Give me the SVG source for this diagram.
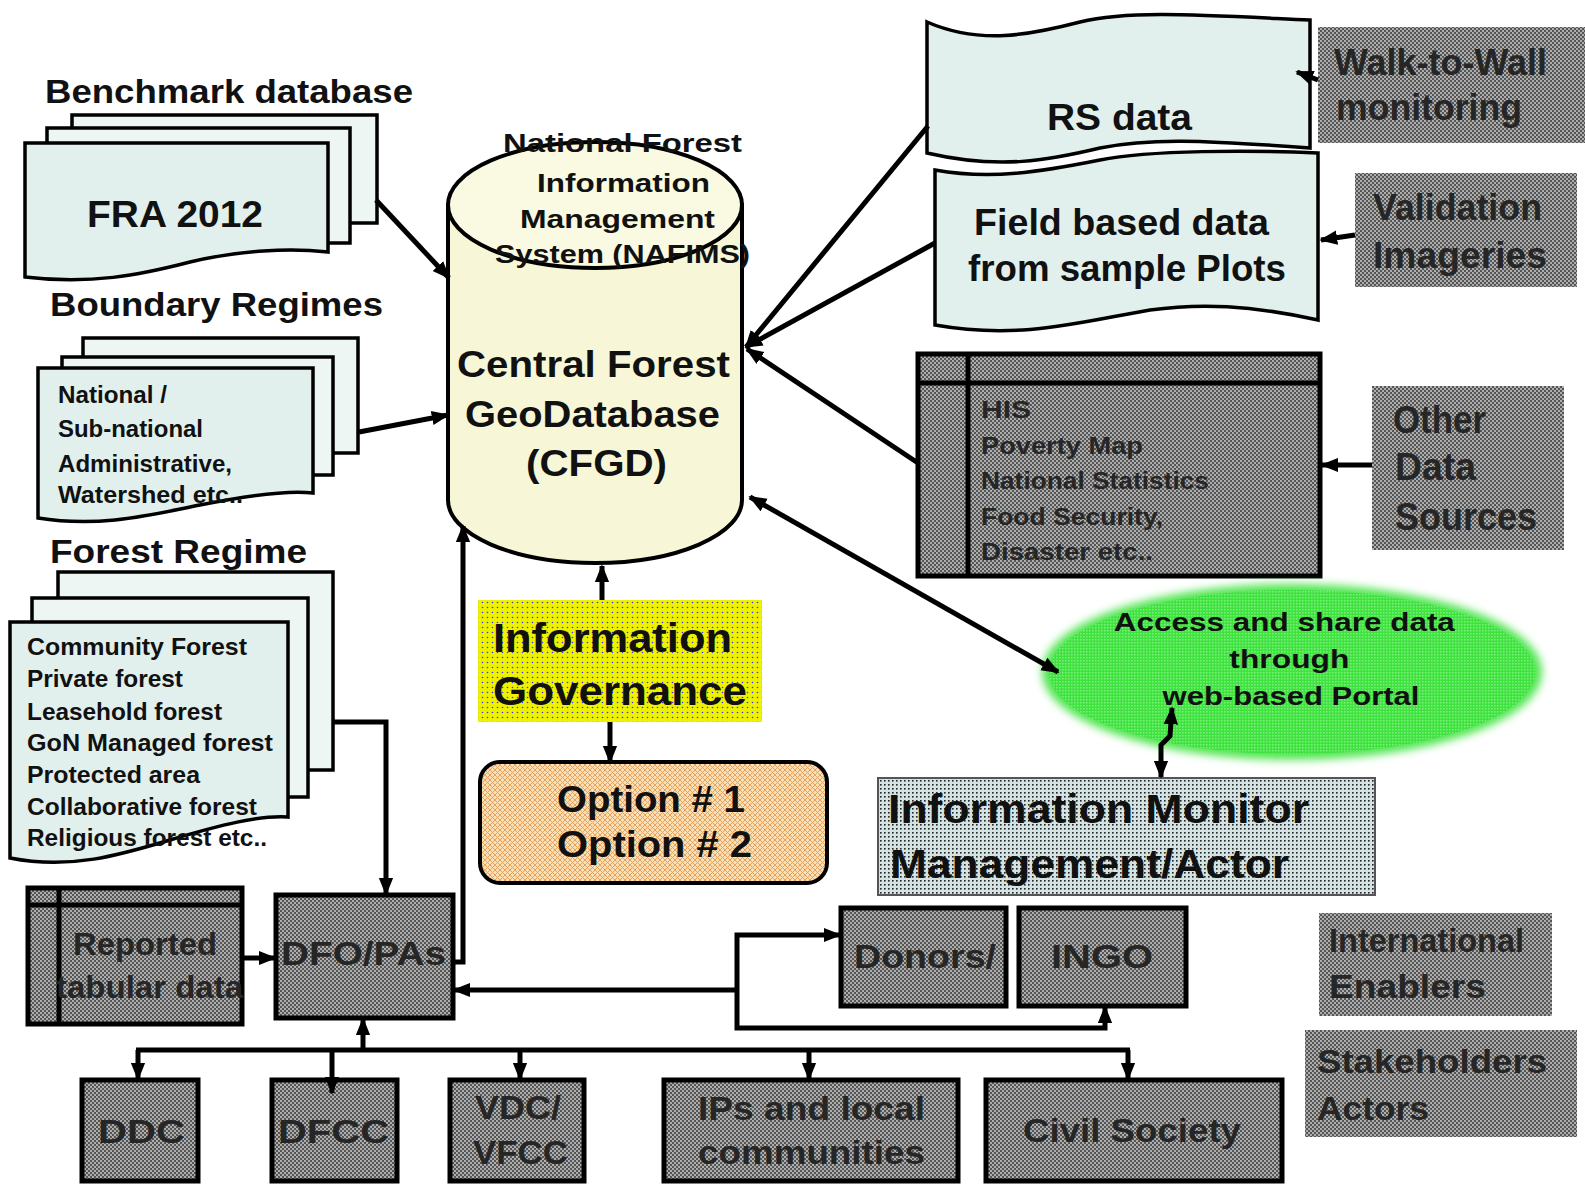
<svg xmlns="http://www.w3.org/2000/svg" width="1585" height="1192" viewBox="0 0 1585 1192">
<style>
.t{font-family:"Liberation Sans",Arial,sans-serif;font-weight:bold;fill:#111}
.g{fill:#262626}
.doc{fill:#e1f0ed;stroke:#000;stroke-width:3.5}
.docb{fill:#eef6f4;stroke:#000;stroke-width:3.5}
.box{fill:url(#chk);stroke:#000;stroke-width:5}
.nb{fill:url(#chk)}
.ln{fill:none;stroke:#000;stroke-width:5}
</style>
<defs>
<pattern id="chk" width="4" height="4" patternUnits="userSpaceOnUse">
<rect width="4" height="4" fill="#555"/>
<rect width="2" height="2" fill="#adadad"/>
<rect x="2" y="2" width="2" height="2" fill="#adadad"/>
</pattern>
<pattern id="dots" width="4" height="4" patternUnits="userSpaceOnUse">
<rect width="4" height="4" fill="#d3e3e3"/>
<rect width="1.6" height="1.6" fill="#222"/>
</pattern>
<pattern id="ydot" width="5" height="5" patternUnits="userSpaceOnUse">
<rect width="5" height="5" fill="#eef200"/>
<circle cx="2.5" cy="2.5" r="0.8" fill="#3a3ae0"/>
</pattern>
<pattern id="hatch" width="5" height="5" patternUnits="userSpaceOnUse">
<rect width="5" height="5" fill="#f9e0b6"/>
<path d="M0,0 L5,5 M5,0 L0,5" stroke="#e9a25e" stroke-width="1"/>
</pattern>
<pattern id="grn" width="3" height="3" patternUnits="userSpaceOnUse">
<rect width="3" height="3" fill="#3fe23f"/>
<rect width="1.5" height="1.5" fill="#7cf07c"/>
</pattern>
<filter id="soft" x="-10%" y="-20%" width="120%" height="140%"><feGaussianBlur stdDeviation="4"/></filter>
<marker id="ah" viewBox="0 0 10 10" refX="9" refY="5" markerWidth="18" markerHeight="18" markerUnits="userSpaceOnUse" orient="auto-start-reverse">
<path d="M0,1 L10,5 L0,9 Z" fill="#000"/>
</marker>
</defs>
<rect width="1585" height="1192" fill="#fff"/>

<g id="benchmark">
<text class="t" x="45" y="103" font-size="33" textLength="368" lengthAdjust="spacingAndGlyphs">Benchmark database</text>
<rect class="docb" x="72" y="115" width="305" height="108"/>
<rect class="docb" x="47" y="128" width="303" height="115"/>
<path class="doc" d="M25,143 H328 V252 C290,248 240,250 190,262 C140,275 90,285 25,277 Z"/>
<text class="t" x="87" y="227" font-size="36" textLength="176" lengthAdjust="spacingAndGlyphs">FRA 2012</text>
</g>

<g id="boundary">
<text class="t" x="50" y="316" font-size="34" textLength="333" lengthAdjust="spacingAndGlyphs">Boundary Regimes</text>
<rect class="docb" x="83" y="338" width="275" height="115"/>
<rect class="docb" x="62" y="357" width="271" height="118"/>
<path class="doc" d="M38,368 H313 V493 C290,490 250,495 200,505 C150,515 100,528 38,518 Z"/>
<text class="t" font-size="23"><tspan x="58" y="403" textLength="109" lengthAdjust="spacingAndGlyphs">National /</tspan><tspan x="58" y="437" textLength="145" lengthAdjust="spacingAndGlyphs">Sub-national</tspan><tspan x="58" y="472" textLength="174" lengthAdjust="spacingAndGlyphs">Administrative,</tspan><tspan x="58" y="503" textLength="185" lengthAdjust="spacingAndGlyphs">Watershed etc..</tspan></text>
</g>

<g id="forest">
<text class="t" x="50" y="563" font-size="34" textLength="257" lengthAdjust="spacingAndGlyphs">Forest Regime</text>
<rect class="docb" x="58" y="572" width="275" height="198"/>
<rect class="docb" x="32" y="598" width="276" height="199"/>
<path class="doc" d="M10,622 H288 V817 C260,815 220,825 170,840 C120,855 70,870 10,858 Z"/>
<text class="t" font-size="24">
<tspan x="27" y="655" textLength="220" lengthAdjust="spacingAndGlyphs">Community Forest</tspan>
<tspan x="27" y="687" textLength="156" lengthAdjust="spacingAndGlyphs">Private forest</tspan>
<tspan x="27" y="720" textLength="195" lengthAdjust="spacingAndGlyphs">Leasehold forest</tspan>
<tspan x="27" y="751" textLength="246" lengthAdjust="spacingAndGlyphs">GoN Managed forest</tspan>
<tspan x="27" y="783" textLength="173" lengthAdjust="spacingAndGlyphs">Protected area</tspan>
<tspan x="27" y="815" textLength="230" lengthAdjust="spacingAndGlyphs">Collaborative forest</tspan>
<tspan x="27" y="846" textLength="240" lengthAdjust="spacingAndGlyphs">Religious forest etc..</tspan>
</text>
</g>

<g id="cfgd">
<path d="M448,205 V500 A147,63 0 0 0 742,500 V205 Z" fill="#f7f7d8" stroke="#000" stroke-width="4"/>
<ellipse cx="595" cy="205" rx="147" ry="63" fill="#fafae2" stroke="#000" stroke-width="4"/>
<text class="t" font-size="26">
<tspan x="503" y="152" textLength="239" lengthAdjust="spacingAndGlyphs">National Forest</tspan>
<tspan x="537" y="192" textLength="173" lengthAdjust="spacingAndGlyphs">Information</tspan>
<tspan x="520" y="228" textLength="195" lengthAdjust="spacingAndGlyphs">Management</tspan>
<tspan x="495" y="263" textLength="255" lengthAdjust="spacingAndGlyphs">System (NAFIMS)</tspan>
</text>
<text class="t" font-size="36">
<tspan x="457" y="377" textLength="273" lengthAdjust="spacingAndGlyphs">Central Forest</tspan>
<tspan x="465" y="427" textLength="255" lengthAdjust="spacingAndGlyphs">GeoDatabase</tspan>
<tspan x="526" y="476" textLength="141" lengthAdjust="spacingAndGlyphs">(CFGD)</tspan>
</text>
</g>

<g id="governance">
<rect x="478" y="600" width="284" height="122" fill="url(#ydot)"/>
<text class="t" font-size="40"><tspan x="493" y="652" textLength="239" lengthAdjust="spacingAndGlyphs">Information</tspan><tspan x="493" y="705" textLength="254" lengthAdjust="spacingAndGlyphs">Governance</tspan></text>
</g>

<g id="options">
<rect x="480" y="762" width="347" height="121" rx="20" fill="url(#hatch)" stroke="#000" stroke-width="4"/>
<text class="t" font-size="36"><tspan x="557" y="812" textLength="188" lengthAdjust="spacingAndGlyphs">Option # 1</tspan><tspan x="557" y="857" textLength="195" lengthAdjust="spacingAndGlyphs">Option # 2</tspan></text>
</g>

<g id="rsdata">
<path class="doc" d="M927,22 C980,45 1030,35 1080,22 C1130,10 1200,15 1310,20 V148 C1200,140 1150,138 1100,148 C1050,160 1000,170 927,153 Z"/>
<text class="t" x="1047" y="130" font-size="36" textLength="145" lengthAdjust="spacingAndGlyphs">RS data</text>
</g>

<g id="fielddata">
<path class="doc" d="M935,170 C990,180 1040,172 1100,160 C1150,150 1250,150 1318,153 V320 C1250,305 1200,303 1150,310 C1080,322 1020,340 935,325 Z"/>
<text class="t" font-size="36"><tspan x="974" y="235" textLength="295" lengthAdjust="spacingAndGlyphs">Field based data</tspan><tspan x="968" y="281" textLength="318" lengthAdjust="spacingAndGlyphs">from sample Plots</tspan></text>
</g>

<g id="walltowall">
<rect class="nb" x="1318" y="27" width="267" height="116"/>
<text class="t g" font-size="36"><tspan x="1334" y="75" textLength="213" lengthAdjust="spacingAndGlyphs">Walk-to-Wall</tspan><tspan x="1336" y="120" textLength="186" lengthAdjust="spacingAndGlyphs">monitoring</tspan></text>
</g>

<g id="validation">
<rect class="nb" x="1355" y="173" width="222" height="114"/>
<text class="t g" font-size="36"><tspan x="1373" y="220" textLength="169" lengthAdjust="spacingAndGlyphs">Validation</tspan><tspan x="1373" y="268" textLength="174" lengthAdjust="spacingAndGlyphs">Imageries</tspan></text>
</g>

<g id="his">
<rect class="box" x="918" y="354" width="402" height="222"/>
<path class="ln" d="M968,354 V576 M918,383 H1320"/>
<text class="t g" font-size="24">
<tspan x="981" y="418" textLength="50" lengthAdjust="spacingAndGlyphs">HIS</tspan>
<tspan x="981" y="454" textLength="162" lengthAdjust="spacingAndGlyphs">Poverty Map</tspan>
<tspan x="981" y="489" textLength="228" lengthAdjust="spacingAndGlyphs">National Statistics</tspan>
<tspan x="981" y="525" textLength="182" lengthAdjust="spacingAndGlyphs">Food Security,</tspan>
<tspan x="981" y="560" textLength="172" lengthAdjust="spacingAndGlyphs">Disaster etc..</tspan>
</text>
</g>

<g id="otherdata">
<rect class="nb" x="1372" y="386" width="192" height="164"/>
<text class="t g" font-size="38"><tspan x="1393" y="433" textLength="93" lengthAdjust="spacingAndGlyphs">Other</tspan><tspan x="1395" y="480" textLength="81" lengthAdjust="spacingAndGlyphs">Data</tspan><tspan x="1395" y="530" textLength="142" lengthAdjust="spacingAndGlyphs">Sources</tspan></text>
</g>

<g id="portal">
<ellipse cx="1292" cy="672" rx="250" ry="88" fill="url(#grn)" filter="url(#soft)"/>
<ellipse cx="1292" cy="672" rx="243" ry="82" fill="url(#grn)"/>
<text class="t" font-size="26" text-anchor="middle">
<tspan x="1288" y="631" textLength="341" lengthAdjust="spacingAndGlyphs">Access and share data</tspan>
<tspan x="1293" y="668" textLength="120" lengthAdjust="spacingAndGlyphs">through</tspan>
<tspan x="1291" y="705" textLength="257" lengthAdjust="spacingAndGlyphs">web-based Portal</tspan>
</text>
</g>

<g id="infomonitor">
<rect x="878" y="778" width="497" height="117" fill="url(#dots)" stroke="#555" stroke-width="2"/>
<text class="t" font-size="40"><tspan x="888" y="823" textLength="421" lengthAdjust="spacingAndGlyphs">Information Monitor</tspan><tspan x="890" y="878" textLength="399" lengthAdjust="spacingAndGlyphs">Management/Actor</tspan></text>
</g>

<g id="donors">
<rect class="box" x="841" y="908" width="165" height="98"/>
<text class="t g" x="854" y="968" font-size="34" textLength="142" lengthAdjust="spacingAndGlyphs">Donors/</text>
</g>

<g id="ingo">
<rect class="box" x="1019" y="908" width="167" height="98"/>
<text class="t g" x="1051" y="968" font-size="34" textLength="102" lengthAdjust="spacingAndGlyphs">INGO</text>
</g>

<g id="enablers">
<rect class="nb" x="1319" y="913" width="233" height="103"/>
<text class="t g" font-size="34"><tspan x="1329" y="952" textLength="195" lengthAdjust="spacingAndGlyphs">International</tspan><tspan x="1329" y="998" textLength="157" lengthAdjust="spacingAndGlyphs">Enablers</tspan></text>
</g>

<g id="stakeholders">
<rect class="nb" x="1305" y="1030" width="272" height="107"/>
<text class="t g" font-size="34"><tspan x="1317" y="1073" textLength="230" lengthAdjust="spacingAndGlyphs">Stakeholders</tspan><tspan x="1317" y="1120" textLength="112" lengthAdjust="spacingAndGlyphs">Actors</tspan></text>
</g>

<g id="reported">
<rect class="box" x="28" y="888" width="214" height="136"/>
<path class="ln" d="M59,888 V1024 M28,905 H242"/>
<text class="t g" font-size="32"><tspan x="73" y="955" textLength="144" lengthAdjust="spacingAndGlyphs">Reported</tspan><tspan x="56" y="998" textLength="187" lengthAdjust="spacingAndGlyphs">tabular data</tspan></text>
</g>

<g id="dfo">
<rect class="box" x="276" y="895" width="177" height="123"/>
<text class="t g" x="281" y="965" font-size="34" textLength="165" lengthAdjust="spacingAndGlyphs">DFO/PAs</text>
</g>

<g id="ddc">
<rect class="box" x="82" y="1080" width="116" height="101"/>
<text class="t g" x="98" y="1143" font-size="34" textLength="87" lengthAdjust="spacingAndGlyphs">DDC</text>
</g>

<g id="dfcc">
<rect class="box" x="272" y="1080" width="125" height="101"/>
<text class="t g" x="278" y="1143" font-size="34" textLength="111" lengthAdjust="spacingAndGlyphs">DFCC</text>
</g>

<g id="vdc">
<rect class="box" x="450" y="1080" width="134" height="101"/>
<text class="t g" font-size="34"><tspan x="475" y="1119" textLength="86" lengthAdjust="spacingAndGlyphs">VDC/</tspan><tspan x="473" y="1164" textLength="95" lengthAdjust="spacingAndGlyphs">VFCC</tspan></text>
</g>

<g id="ips">
<rect class="box" x="664" y="1080" width="294" height="101"/>
<text class="t g" font-size="34"><tspan x="698" y="1120" textLength="227" lengthAdjust="spacingAndGlyphs">IPs and local</tspan><tspan x="698" y="1164" textLength="227" lengthAdjust="spacingAndGlyphs">communities</tspan></text>
</g>

<g id="civil">
<rect class="box" x="986" y="1080" width="296" height="101"/>
<text class="t g" x="1023" y="1142" font-size="34" textLength="218" lengthAdjust="spacingAndGlyphs">Civil Society</text>
</g>

<g id="connectors">
<path class="ln" d="M376,200 L449,278" marker-end="url(#ah)"/>
<path class="ln" d="M359,432 L448,415" marker-end="url(#ah)"/>
<path class="ln" d="M928,126 L746,347" marker-end="url(#ah)"/>
<path class="ln" d="M935,243 L746,347" marker-end="url(#ah)"/>
<path class="ln" d="M918,463 L747,349" marker-end="url(#ah)"/>
<path class="ln" d="M750,497 L1058,672" marker-start="url(#ah)" marker-end="url(#ah)"/>
<path class="ln" d="M1318,80 L1297,72" marker-end="url(#ah)"/>
<path class="ln" d="M1355,235 L1321,240" marker-end="url(#ah)"/>
<path class="ln" d="M1372,465 L1322,465" marker-end="url(#ah)"/>
<path class="ln" d="M1172,708 L1170,736 L1161,745 L1161,777" marker-start="url(#ah)" marker-end="url(#ah)"/>
<path class="ln" d="M602,600 L602,566" marker-end="url(#ah)"/>
<path class="ln" d="M610,722 L610,762" marker-end="url(#ah)"/>
<path class="ln" d="M453,962 H463 V526" marker-end="url(#ah)"/>
<path class="ln" d="M333,722 H386 V894" marker-end="url(#ah)"/>
<path class="ln" d="M242,958 H275" marker-end="url(#ah)"/>
<path class="ln" d="M737,990 H454" marker-end="url(#ah)"/>
<path class="ln" d="M840,935 H737 V1028 H1105 V1007" marker-start="url(#ah)" marker-end="url(#ah)"/>
<path class="ln" d="M363,1050 V1019" marker-end="url(#ah)"/>
<path class="ln" d="M136,1050 H1130"/>
<path class="ln" d="M138,1050 V1079" marker-end="url(#ah)"/>
<path class="ln" d="M332,1050 V1093" marker-end="url(#ah)"/>
<path class="ln" d="M520,1050 V1079" marker-end="url(#ah)"/>
<path class="ln" d="M809,1050 V1079" marker-end="url(#ah)"/>
<path class="ln" d="M1128,1050 V1079" marker-end="url(#ah)"/>
</g>
</svg>
